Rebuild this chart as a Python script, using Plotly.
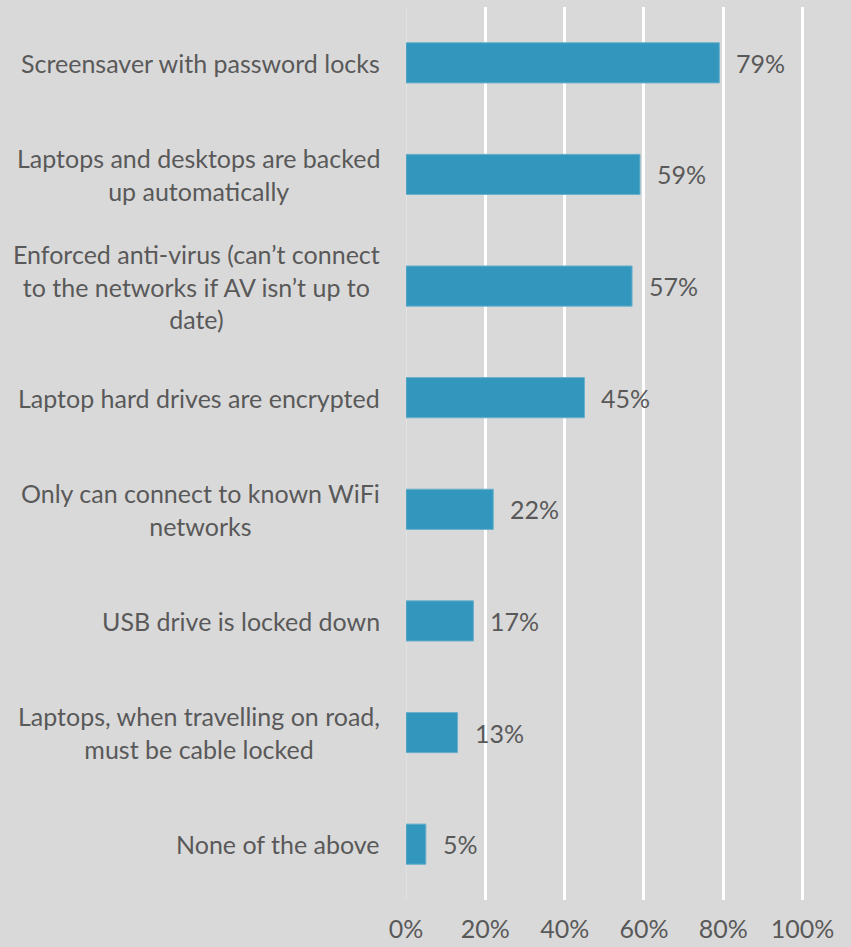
import plotly.graph_objects as go

categories = [
    "Screensaver with password locks",
    "Laptops and desktops are backed<br>up automatically",
    "Enforced anti-virus (can’t connect<br>to the networks if AV isn’t up to<br>date)",
    "Laptop hard drives are encrypted",
    "Only can connect to known WiFi<br>networks",
    "USB drive is locked down",
    "Laptops, when travelling on road,<br>must be cable locked",
    "None of the above",
]
values = [79, 59, 57, 45, 22, 17, 13, 5]
tick_vals = [0, 20, 40, 60, 80, 100]
tick_text = ["0%", "20%", "40%", "60%", "80%", "100%"]

FONT = "Lato"
TXT = "#595959"
FS = 25

fig = go.Figure()
fig.add_trace(go.Bar(
    y=categories, x=values, orientation="h",
    marker=dict(color="#3396BD", line=dict(color="#6CB0CC", width=1)),
    hoverinfo="skip",
))

annotations = []
for c, v in zip(categories, values):
    annotations.append(dict(
        x=0, xref="paper", y=c, yref="y", text=c, showarrow=False,
        xanchor="right", align="center", xshift=-24,
        font=dict(family=FONT, size=FS, color=TXT),
    ))
    annotations.append(dict(
        x=v, xref="x", y=c, yref="y", text=f"{v}%", showarrow=False,
        xanchor="left", xshift=15,
        font=dict(family=FONT, size=FS, color=TXT),
    ))

fig.update_layout(
    width=851, height=947,
    margin=dict(l=405.5, r=46, t=7, b=47),
    paper_bgcolor="#D9D9D9", plot_bgcolor="#D9D9D9",
    bargap=0.64,
    showlegend=False,
    annotations=annotations,
    font=dict(family=FONT, size=FS, color=TXT),
    xaxis=dict(
        range=[0, 100.6], tickvals=tick_vals, ticktext=tick_text,
        showgrid=True, gridcolor="#FFFFFF", gridwidth=3,
        zeroline=True, zerolinecolor="#E2E2E2", zerolinewidth=1,
        showline=False, ticks="", ticklabelstandoff=12,
        tickfont=dict(family=FONT, size=FS, color=TXT),
        automargin=False, fixedrange=True,
    ),
    yaxis=dict(
        categoryorder="array", categoryarray=categories,
        autorange="reversed", showticklabels=False,
        showgrid=False, zeroline=False, showline=False, ticks="",
        automargin=False, fixedrange=True,
    ),
)

fig.write_html("out.html")
